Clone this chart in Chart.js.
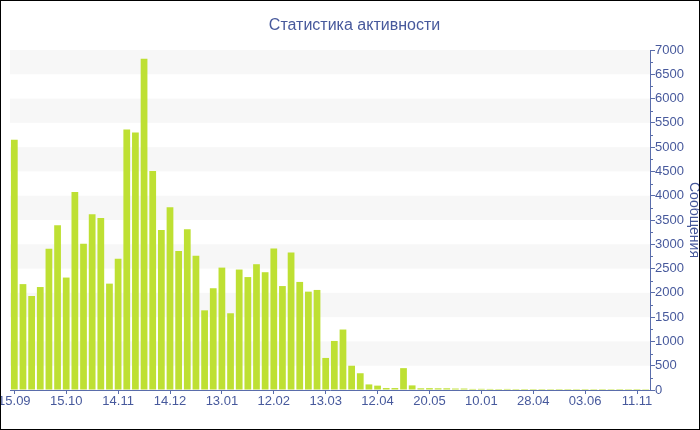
<!DOCTYPE html>
<html>
<head>
<meta charset="utf-8">
<script src="https://cdn.jsdelivr.net/npm/chart.js@4.4.0/dist/chart.umd.min.js"></script>
<style>
  html, body { margin: 0; padding: 0; background: #fff; }
  #wrap { position: relative; width: 700px; height: 430px; box-sizing: border-box; border: 1px solid #000; }
  canvas { display: block; }
</style>
</head>
<body>
<div id="wrap"><canvas id="c" width="698" height="428"></canvas></div>
<script>
const chartTitle = 'Статистика активности';
const yAxisTitle = 'Сообщения';

const categories = [
  '15.09','20.09','25.09','30.09','05.10','10.10',
  '15.10','20.10','25.10','30.10','04.11','09.11',
  '14.11','19.11','24.11','29.11','04.12','09.12',
  '14.12','19.12','24.12','29.12','03.01','08.01',
  '13.01','18.01','23.01','28.01','02.02','07.02',
  '12.02','17.02','22.02','27.02','03.03','08.03',
  '13.03','18.03','23.03','28.03','02.04','07.04',
  '12.04','17.04','23.04','30.04','06.05','13.05',
  '20.05','27.06','04.08','12.09','20.10','28.11',
  '10.01','28.01','15.02','05.03','23.03','10.04',
  '28.04','04.05','10.05','16.05','22.05','28.05',
  '03.06','30.06','27.07','23.08','19.09','16.10',
  '11.11','08.12'
];

const messages = [
  5150, 2180, 1935, 2120, 2910, 3390,
  2315, 4075, 3010, 3620, 3540, 2190,
  2700, 5365, 5300, 6820, 4510, 3295,
  3760, 2860, 3310, 2765, 1640, 2095,
  2520, 1580, 2480, 2325, 2590, 2425,
  2915, 2140, 2830, 2225, 2025, 2060,
  660, 1010, 1245, 500, 345, 115,
  90, 40, 40, 450, 95, 35,
  38, 35, 35, 30, 30, 22,
  24, 22, 20, 22, 20, 21,
  20, 20, 19, 20, 20, 19,
  20, 19, 20, 19, 20, 19,
  20, 18
];

const yTicksMin = 0, yTicksMax = 7000, yTickStep = 500;
const labelEvery = 6;

const textColor = '#47599c';
const axisColor = '#5a6dab';
const barColor = '#bee033';
const bandColor = '#f7f7f7';
const FONT = '"Liberation Sans", Arial, sans-serif';

const bandsPlugin = {
  id: 'bands',
  beforeDatasetsDraw(chart) {
    const { ctx, chartArea: a, scales: { y } } = chart;
    ctx.save();
    ctx.fillStyle = bandColor;
    y.ticks.forEach(t => {
      if (t.value % (2 * yTickStep) === yTickStep && t.value < y.max) {
        const y1 = y.getPixelForValue(t.value);
        const y2 = y.getPixelForValue(t.value + yTickStep);
        ctx.fillRect(a.left, y2, a.right - a.left, y1 - y2);
      }
    });
    ctx.strokeStyle = axisColor;
    ctx.lineWidth = 1;
    for (let i = 0; i < y.ticks.length - 1; i++) {
      const v = (y.ticks[i].value + y.ticks[i + 1].value) / 2;
      const py = Math.round(y.getPixelForValue(v)) + 0.5;
      ctx.beginPath();
      ctx.moveTo(a.right, py);
      ctx.lineTo(a.right + 3, py);
      ctx.stroke();
    }
    ctx.restore();
  }
};

new Chart(document.getElementById('c'), {
  type: 'bar',
  data: {
    labels: categories,
    datasets: [{
      label: yAxisTitle,
      data: messages,
      backgroundColor: barColor,
      borderWidth: 0,
      barPercentage: 0.78,
      categoryPercentage: 1.0
    }]
  },
  options: {
    responsive: false,
    animation: false,
    events: [],
    layout: { padding: { left: 9, right: 0, top: 0, bottom: 0 } },
    plugins: {
      legend: { display: false },
      tooltip: { enabled: false },
      title: {
        display: true,
        text: chartTitle,
        color: textColor,
        font: { family: FONT, size: 16, weight: 'normal' },
        padding: { top: 15, bottom: 14.8 }
      }
    },
    scales: {
      x: {
        type: 'category',
        offset: true,
        grid: {
          offset: false,
          drawOnChartArea: false,
          drawTicks: true,
          tickLength: 4,
          tickColor: (c) => (c.index % labelEvery === 0 ? axisColor : 'rgba(0,0,0,0)')
        },
        border: { display: true, color: axisColor, width: 1 },
        ticks: {
          autoSkip: false,
          maxRotation: 0,
          minRotation: 0,
          padding: 0,
          color: textColor,
          font: { family: FONT, size: 13 },
          callback: function (v, i) { return i % labelEvery === 0 ? this.getLabelForValue(v) : ''; }
        },
        afterFit: (s) => { s.paddingLeft = 0; s.paddingRight = 0; s.height = 39; }
      },
      y: {
        position: 'right',
        min: yTicksMin,
        max: yTicksMax,
        grid: {
          drawOnChartArea: false,
          drawTicks: true,
          tickLength: 5,
          tickColor: axisColor
        },
        border: { display: true, color: axisColor, width: 1 },
        ticks: {
          stepSize: yTickStep,
          padding: 0,
          color: textColor,
          font: { family: FONT, size: 13 },
          callback: (v) => String(v)
        },
        title: {
          display: true,
          text: yAxisTitle,
          color: textColor,
          font: { family: FONT, size: 14 },
          padding: { top: -3, bottom: 0 }
        },
        afterFit: (s) => { s.width = 49; }
      }
    }
  },
  plugins: [bandsPlugin]
});
</script>
</body>
</html>
